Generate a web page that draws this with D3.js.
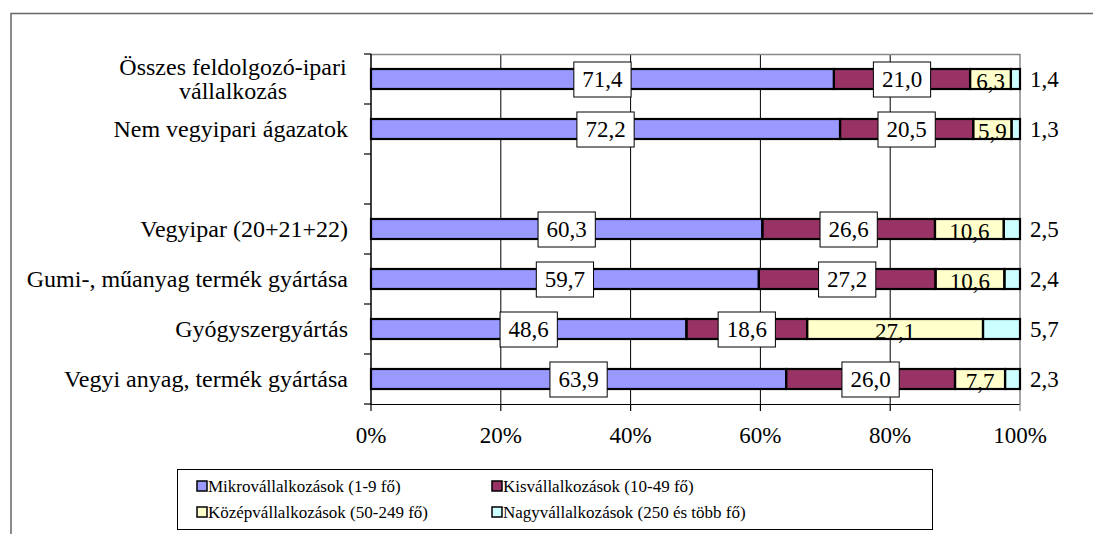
<!DOCTYPE html>
<html>
<head>
<meta charset="utf-8">
<script src="https://cdn.jsdelivr.net/npm/d3@7"></script>
<style>
html,body{margin:0;padding:0;background:#fff;}
svg{display:block;font-family:"Liberation Serif","Times New Roman",serif;}
</style>
</head>
<body>
<svg id="chart" width="1094" height="534"></svg>
<script>
// ---- data ----
const categories = [
  "Összes feldolgozó-ipari vállalkozás",
  "Nem vegyipari ágazatok",
  "",
  "Vegyipar (20+21+22)",
  "Gumi-, műanyag termék gyártása",
  "Gyógyszergyártás",
  "Vegyi anyag, termék gyártása"
];
const categoryLines = [
  ["Összes feldolgozó-ipari", "vállalkozás"],
  ["Nem vegyipari ágazatok"],
  [],
  ["Vegyipar (20+21+22)"],
  ["Gumi-, műanyag termék gyártása"],
  ["Gyógyszergyártás"],
  ["Vegyi anyag, termék gyártása"]
];
const seriesNames = [
  "Mikrovállalkozások (1-9 fő)",
  "Kisvállalkozások (10-49 fő)",
  "Középvállalkozások (50-249 fő)",
  "Nagyvállalkozások (250 és több fő)"
];
const mikro = [71.4, 72.2, null, 60.3, 59.7, 48.6, 63.9];
const kis   = [21.0, 20.5, null, 26.6, 27.2, 18.6, 26.0];
const kozep = [6.3, 5.9, null, 10.6, 10.6, 27.1, 7.7];
const nagy  = [1.4, 1.3, null, 2.5, 2.4, 5.7, 2.3];
const xTicks = [0, 0.2, 0.4, 0.6, 0.8, 1.0];
const colors = ["#9999FF", "#993366", "#FFFFCC", "#CCFFFF"];

// ---- build table ----
const keys = ["mikro", "kis", "kozep", "nagy"];
const table = categories.map((c, i) => ({
  cat: c, idx: i,
  mikro: mikro[i] || 0, kis: kis[i] || 0, kozep: kozep[i] || 0, nagy: nagy[i] || 0,
  empty: mikro[i] == null
}));
const stacked = d3.stack().keys(keys).offset(d3.stackOffsetExpand)(table);

const svg = d3.select("#chart");
svg.append("rect").attr("width", 1094).attr("height", 534).attr("fill", "#fff");

// outer frame
svg.append("path").attr("d", "M11,534V13.5H1093").attr("fill", "none")
  .attr("stroke", "#666").attr("stroke-width", 1.5);

const x = d3.scaleLinear().domain([0, 1]).range([371, 1020]);
const y = d3.scaleBand().domain(categories.map((c, i) => i)).range([54, 404])
  .paddingInner(0.6).paddingOuter(0.3);

const loc = d3.formatLocale({decimal: ",", thousands: " ", grouping: [3], currency: ["", ""]});
const fmt = loc.format(".1f");
const pct = d3.format(".0%");

// gridlines
svg.append("g").selectAll("line").data(xTicks.filter(t => t > 0 && t < 1)).join("line")
  .attr("x1", d => x(d)).attr("x2", d => x(d)).attr("y1", 54).attr("y2", 404)
  .attr("stroke", "#000").attr("stroke-width", 1);
// plot border top/right (gray)
svg.append("path").attr("d", `M${x(0)},54.5H${x(1)}V404`).attr("fill", "none")
  .attr("stroke", "#888").attr("stroke-width", 1.5);

// x axis
const xAxis = svg.append("g");
xAxis.append("line").attr("x1", x(0)).attr("x2", x(1)).attr("y1", 404.5).attr("y2", 404.5)
  .attr("stroke", "#000").attr("stroke-width", 1.2);
xAxis.selectAll("line.tk").data(xTicks).join("line").attr("class", "tk")
  .attr("x1", d => x(d)).attr("x2", d => x(d)).attr("y1", 404).attr("y2", 411)
  .attr("stroke", d => d === 1 ? "#888" : "#000").attr("stroke-width", 1.2);
xAxis.selectAll("text").data(xTicks).join("text")
  .attr("x", d => x(d)).attr("y", 443).attr("text-anchor", "middle")
  .attr("font-size", 23).attr("fill", "#000").text(d => pct(d));

// y axis
const yAxis = svg.append("g");
yAxis.append("line").attr("x1", 371).attr("x2", 371).attr("y1", 54).attr("y2", 404.5)
  .attr("stroke", "#000").attr("stroke-width", 1.5);
const boundaries = d3.range(categories.length + 1).map(i => y.range()[0] + i * y.step());
yAxis.selectAll("line.tk").data(boundaries).join("line").attr("class", "tk")
  .attr("x1", 364).attr("x2", 371).attr("y1", d => d).attr("y2", d => d)
  .attr("stroke", "#000").attr("stroke-width", 1.2);
table.forEach((row, i) => {
  const lines = categoryLines[i];
  if (!lines.length) return;
  const cy = y(i) + y.bandwidth() / 2;
  const t = yAxis.append("text").attr("font-size", 24).attr("fill", "#000");
  if (lines.length === 1) {
    t.attr("x", 348).attr("y", cy + 8).attr("text-anchor", "end").text(lines[0]);
  } else {
    t.attr("text-anchor", "middle").attr("x", 233);
    lines.forEach((ln, k) => {
      t.append("tspan").attr("x", 233).attr("y", cy - 4 + k * 24).text(ln);
    });
  }
});

// bars
const barsG = svg.append("g");
const rows = table.filter(r => !r.empty);
// fills
stacked.forEach((s, si) => {
  barsG.append("g").selectAll("rect").data(s.filter(d => !d.data.empty)).join("rect")
    .attr("x", d => x(d[0])).attr("width", d => x(d[1]) - x(d[0]))
    .attr("y", d => y(d.data.idx)).attr("height", y.bandwidth())
    .attr("fill", colors[si]);
});
// kozep labels (under outlines)
const sK = stacked[2];
barsG.append("g").selectAll("text").data(sK.filter(d => !d.data.empty)).join("text")
  .attr("x", d => (x(d[0]) + x(d[1])) / 2).attr("y", d => y(d.data.idx) + y.bandwidth() - 0.5)
  .attr("text-anchor", "middle").attr("font-size", 23).attr("fill", "#000")
  .text(d => fmt(d.data.kozep));
// outlines
stacked.forEach((s, si) => {
  barsG.append("g").selectAll("rect").data(s.filter(d => !d.data.empty)).join("rect")
    .attr("x", d => x(d[0])).attr("width", d => x(d[1]) - x(d[0]))
    .attr("y", d => y(d.data.idx)).attr("height", y.bandwidth())
    .attr("fill", "none").attr("stroke", "#000").attr("stroke-width", 2.2);
});

// boxed labels for mikro & kis
[0, 1].forEach(si => {
  const key = keys[si];
  stacked[si].filter(d => !d.data.empty).forEach(d => {
    const cx = (x(d[0]) + x(d[1])) / 2;
    const cy = y(d.data.idx) + y.bandwidth() / 2;
    const g = barsG.append("g");
    const r = g.append("rect");
    const t = g.append("text").attr("x", cx).attr("y", cy + 8).attr("text-anchor", "middle")
      .attr("font-size", 23).attr("fill", "#000").text(fmt(d.data[key]));
    const w = t.node().getComputedTextLength() + 17;
    r.attr("x", cx - w / 2).attr("y", cy - 17).attr("width", w).attr("height", 35)
      .attr("fill", "#fff").attr("stroke", "#000").attr("stroke-width", 1);
  });
});

// nagy labels outside
barsG.append("g").selectAll("text").data(stacked[3].filter(d => !d.data.empty)).join("text")
  .attr("x", x(1) + 10).attr("y", d => y(d.data.idx) + y.bandwidth() / 2 + 8)
  .attr("font-size", 23).attr("fill", "#000").text(d => fmt(d.data.nagy));

// legend
const lg = svg.append("g");
lg.append("rect").attr("x", 177.5).attr("y", 469.5).attr("width", 755).attr("height", 60)
  .attr("fill", "#fff").attr("stroke", "#000").attr("stroke-width", 1);
const legPos = [[197, 486], [492, 486], [197, 512], [492, 512]];
seriesNames.forEach((n, i) => {
  const [lx, ly] = legPos[i];
  lg.append("rect").attr("x", lx).attr("y", ly - 5).attr("width", 10).attr("height", 10)
    .attr("fill", colors[i]).attr("stroke", "#000").attr("stroke-width", 1.5);
  lg.append("text").attr("x", lx + 11).attr("y", ly + 6).attr("font-size", 17)
    .attr("fill", "#000").text(n);
});
</script>
</body>
</html>
